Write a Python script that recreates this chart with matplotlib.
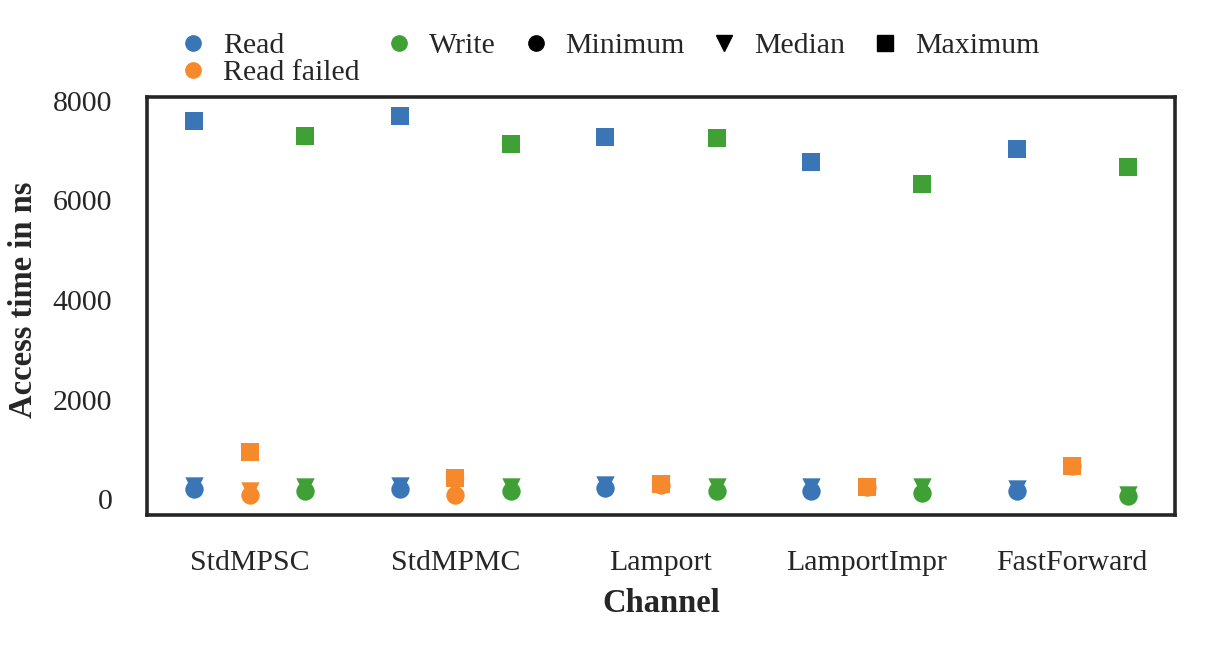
import numpy as np
import matplotlib
matplotlib.use("Agg")
import matplotlib.pyplot as plt
from matplotlib.lines import Line2D

categories = ["StdMPSC", "StdMPMC", "Lamport", "LamportImpr", "FastForward"]
groups = ["Read", "Read failed", "Write"]

read_min = [195, 195, 220, 167, 167]
read_median = [255, 255, 281, 235, 201]
read_max = [7600, 7700, 7275, 6775, 7035]

failed_min = [80, 80, 290, 235, 660]
failed_median = [160, 250, 300, 240, 665]
failed_max = [940, 422, 305, 241, 667]

write_min = [167, 167, 167, 114, 60]
write_median = [241, 235, 235, 235, 80]
write_max = [7296, 7136, 7256, 6332, 6673]

yticks = [0, 2000, 4000, 6000, 8000]

colors = {"Read": "#3a76b5", "Read failed": "#f5892c", "Write": "#3ea035"}
offsets = {"Read": -0.27, "Read failed": 0.0, "Write": 0.27}
data = {
    "Read": (read_min, read_median, read_max),
    "Read failed": (failed_min, failed_median, failed_max),
    "Write": (write_min, write_median, write_max),
}

plt.rcParams["font.family"] = ["Liberation Serif", "DejaVu Serif"]

fig = plt.figure(figsize=(12.06, 6.55), dpi=100)
ax = fig.add_axes([0.1219, 0.2137, 0.9743 - 0.1219, 0.852 - 0.2137])

x = np.arange(len(categories))
s = 175
for g in groups:
    mn, md, mx = data[g]
    c = colors[g]
    ax.scatter(x + offsets[g], md, marker="v", s=s, color=c, linewidths=0, zorder=3)
    ax.scatter(x + offsets[g], mn, marker="o", s=s, color=c, linewidths=0, zorder=3)
    ax.scatter(x + offsets[g], mx, marker="s", s=s, color=c, linewidths=0, zorder=3)

ax.set_xlim(-0.5, len(categories) - 0.5)
ax.set_ylim(-320, 8080)
ax.set_xticks(x)
ax.set_xticklabels(categories)
ax.set_yticks(yticks)
ax.set_yticklabels([str(t) for t in yticks])
ax.tick_params(axis="both", length=0, labelsize=21.5, colors="#262626")
ax.tick_params(axis="x", pad=25)
ax.tick_params(axis="y", pad=25)
for sp in ax.spines.values():
    sp.set_linewidth(2.6)
    sp.set_color("#262626")

ax.set_xlabel("Channel", fontsize=23.5, fontweight="bold", color="#262626", labelpad=9)
ax.set_ylabel("Access time in ns", fontsize=23.5, fontweight="bold", color="#262626", labelpad=11)
ax.yaxis.set_label_coords(-0.105, 0.515)

handles = [
    Line2D([], [], marker="o", linestyle="", color=colors["Read"], markersize=11),
    Line2D([], [], marker="o", linestyle="", color=colors["Read failed"], markersize=11),
    Line2D([], [], marker="o", linestyle="", color=colors["Write"], markersize=11),
    Line2D([], [], marker="o", linestyle="", color="black", markersize=11),
    Line2D([], [], marker="v", linestyle="", color="black", markersize=11),
    Line2D([], [], marker="s", linestyle="", color="black", markersize=11),
]
labels = ["Read", "Read failed", "Write", "Minimum", "Median", "Maximum"]
leg = ax.legend(handles, labels, ncol=5, loc="lower left", bbox_to_anchor=(0.010, 0.99),
                frameon=False, fontsize=21.5, handletextpad=0.3, columnspacing=0.63,
                labelspacing=0.0, borderpad=0.0, handlelength=1.4)
for t in leg.get_texts():
    t.set_color("#262626")

fig.savefig("out.png", dpi=100)
